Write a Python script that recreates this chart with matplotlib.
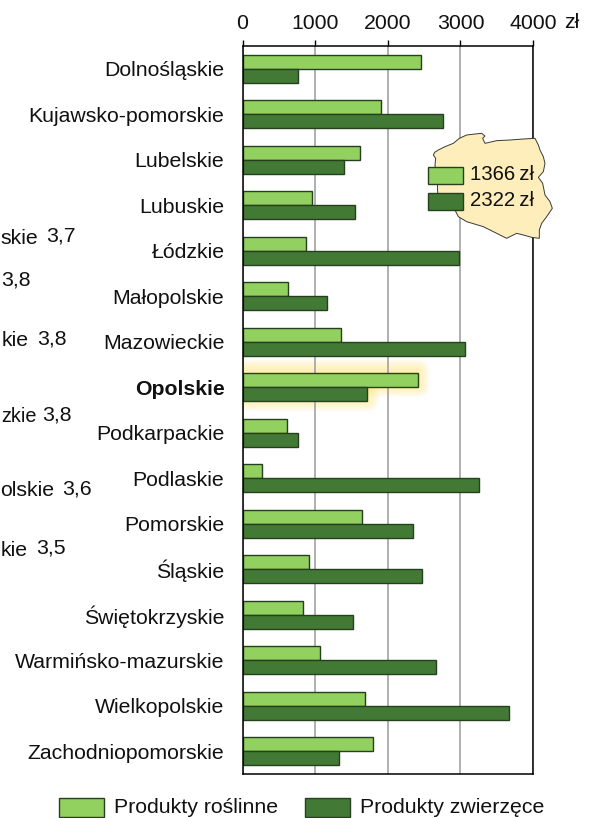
import matplotlib
matplotlib.use("Agg")
import matplotlib.pyplot as plt
from matplotlib.patches import Polygon, Rectangle, FancyBboxPatch

plt.rcParams['font.family'] = ['Liberation Sans', 'DejaVu Sans']

regions = ["Dolnośląskie", "Kujawsko-pomorskie", "Lubelskie", "Lubuskie", "Łódzkie",
           "Małopolskie", "Mazowieckie", "Opolskie", "Podkarpackie", "Podlaskie",
           "Pomorskie", "Śląskie", "Świętokrzyskie", "Warmińsko-mazurskie",
           "Wielkopolskie", "Zachodniopomorskie"]
plant = [2459, 1908, 1618, 957, 875, 627, 1357, 2417, 613, 269, 1646, 916, 833, 1068, 1687, 1798]
animal = [765, 2762, 1398, 1550, 2982, 1164, 3065, 1715, 764, 3258, 2348, 2472, 1522, 2665, 3671, 1329]
ticks = [0, 1000, 2000, 3000, 4000]
tick_labels = ["0", "1000", "2000", "3000", "4000"]
unit = "zł"
highlight = "Opolskie"
poland_plant = "1366\u2009zł"
poland_animal = "2322\u2009zł"
leg_plant = "Produkty roślinne"
leg_animal = "Produkty zwierzęce"
stray = [("skie", "3,7", 237), ("", "3,8", 281), ("kie", "3,8", 340),
         ("zkie", "3,8", 416), ("olskie", "3,6", 490), ("kie", "3,5", 549)]
stray_x = [46, 1, 37, 42, 62, 36]
stray_gap = [8, 0, 8, 5.5, 8, 8]
stray_fs = [15.3, 15.3, 15.3, 14.3, 15.3, 15.3]

LIGHT = "#92d05f"
DARK = "#427a35"
EDGE = "#26401f"
TXT = "#111111"
FS = 15.3
W, H = 590, 818

fig = plt.figure(figsize=(W / 100, H / 100), dpi=100)

under = fig.add_axes([0, 0, 1, 1], zorder=0)
under.set_xlim(0, W)
under.set_ylim(H, 0)
under.axis("off")

ax = fig.add_axes([242.5 / W, 1 - 774 / H, (533 - 242.5) / W, (774 - 46) / H], zorder=1)
ax.patch.set_alpha(0)
ax.set_xlim(0, 4000)
ax.set_ylim(len(regions) - 0.5, -0.5)
ax.set_axisbelow(True)
ax.xaxis.grid(True, color="#9a9a9a", lw=1.1)

bh = 0.31
ypos = list(range(len(regions)))
ax.barh([y - bh / 2 for y in ypos], plant, height=bh, color=LIGHT, edgecolor=EDGE, lw=1.0, zorder=2)
ax.barh([y + bh / 2 for y in ypos], animal, height=bh, color=DARK, edgecolor=EDGE, lw=1.0, zorder=2)

ax.xaxis.tick_top()
ax.set_xticks(ticks)
ax.set_xticklabels(tick_labels, fontsize=FS, color=TXT)
ax.tick_params(axis="x", length=4.3, width=1.0, color="black", pad=5.3)
ax.set_yticks(ypos)
ax.set_yticklabels(regions, fontsize=FS, color=TXT, va="center_baseline")
ax.tick_params(axis="y", length=0, pad=13)
for lab in ax.get_yticklabels():
    if lab.get_text() == highlight:
        lab.set_fontweight("bold")
for s in ["top", "left", "bottom", "right"]:
    ax.spines[s].set_linewidth(1.1)

# soft glow around the highlighted bars, only right of the axis line
i = regions.index(highlight)
to_px = lambda x, y: (242.5 + x / 4000 * 290.5, 46 + (y + 0.5) * 45.5)
x0, top = to_px(0, i - bh)
x1, mid = to_px(plant[i], i)
x2, bot = to_px(animal[i], i + bh)
clip = Rectangle((x0, 0), W, H, transform=under.transData)
for grow in range(1, 13):
    for xe, ya, yb in [(x1, top, mid), (x2, mid, bot)]:
        p = FancyBboxPatch((x0, ya - 2), xe - x0, yb - ya,
                           boxstyle=f"round,pad={grow},rounding_size={grow}",
                           facecolor="#ffe566", edgecolor="none", alpha=0.05)
        under.add_patch(p)
        p.set_clip_path(clip)

ov = fig.add_axes([0, 0, 1, 1], zorder=5)
ov.set_xlim(0, W)
ov.set_ylim(H, 0)
ov.axis("off")
ov.patch.set_alpha(0)

zoom_outline = [(100, 105), (104, 97), (115, 90), (135, 80), (160, 70), (178, 55), (200, 45), (225, 42),
                (245, 40), (255, 48), (248, 55), (255, 70), (290, 62), (330, 60), (370, 57), (405, 55),
                (415, 75), (420, 90), (430, 110), (435, 130), (430, 155), (415, 172), (428, 190),
                (435, 225), (450, 245), (457, 265), (440, 290), (425, 310), (418, 330), (418, 355),
                (395, 352), (370, 345), (350, 340), (320, 355), (290, 340), (250, 320), (200, 305),
                (175, 290), (165, 270), (115, 270), (112, 190), (105, 135), (107, 115)]
outline = [(400 + x / 3, 120 + y / 3) for x, y in zoom_outline]
ov.add_patch(Polygon(outline, closed=True, facecolor="#fdeebb", edgecolor="#3a3a3a", lw=0.7, zorder=1))
ov.add_patch(Rectangle((428, 166.5), 34.5, 17, facecolor=LIGHT, edgecolor=EDGE, lw=1.0, zorder=2))
ov.add_patch(Rectangle((428, 192.5), 34.5, 17, facecolor=DARK, edgecolor=EDGE, lw=1.0, zorder=2))
ov.text(534, 175, poland_plant, ha="right", va="center", fontsize=14.7, color=TXT, zorder=3)
ov.text(534, 201, poland_animal, ha="right", va="center", fontsize=14.7, color=TXT, zorder=3)

ov.text(564, 22.5, unit, ha="left", va="center", fontsize=FS, color=TXT)

ov.add_patch(Rectangle((58.5, 798), 45, 18.5, facecolor=LIGHT, edgecolor=EDGE, lw=1.0))
ov.add_patch(Rectangle((305, 798), 45, 18.5, facecolor=DARK, edgecolor=EDGE, lw=1.0))
ov.text(114, 807.5, leg_plant, ha="left", va="center", fontsize=FS, color=TXT)
ov.text(360, 807.5, leg_animal, ha="left", va="center", fontsize=FS, color=TXT)

for (frag, val, y), vx, gap, fs in zip(stray, stray_x, stray_gap, stray_fs):
    if frag:
        ov.text(vx - gap, y + 1, frag, ha="right", va="center", fontsize=fs, color=TXT)
    ov.text(vx, y - 1, val, ha="left", va="center", fontsize=FS, color=TXT)

fig.savefig("out.png", dpi=100)
